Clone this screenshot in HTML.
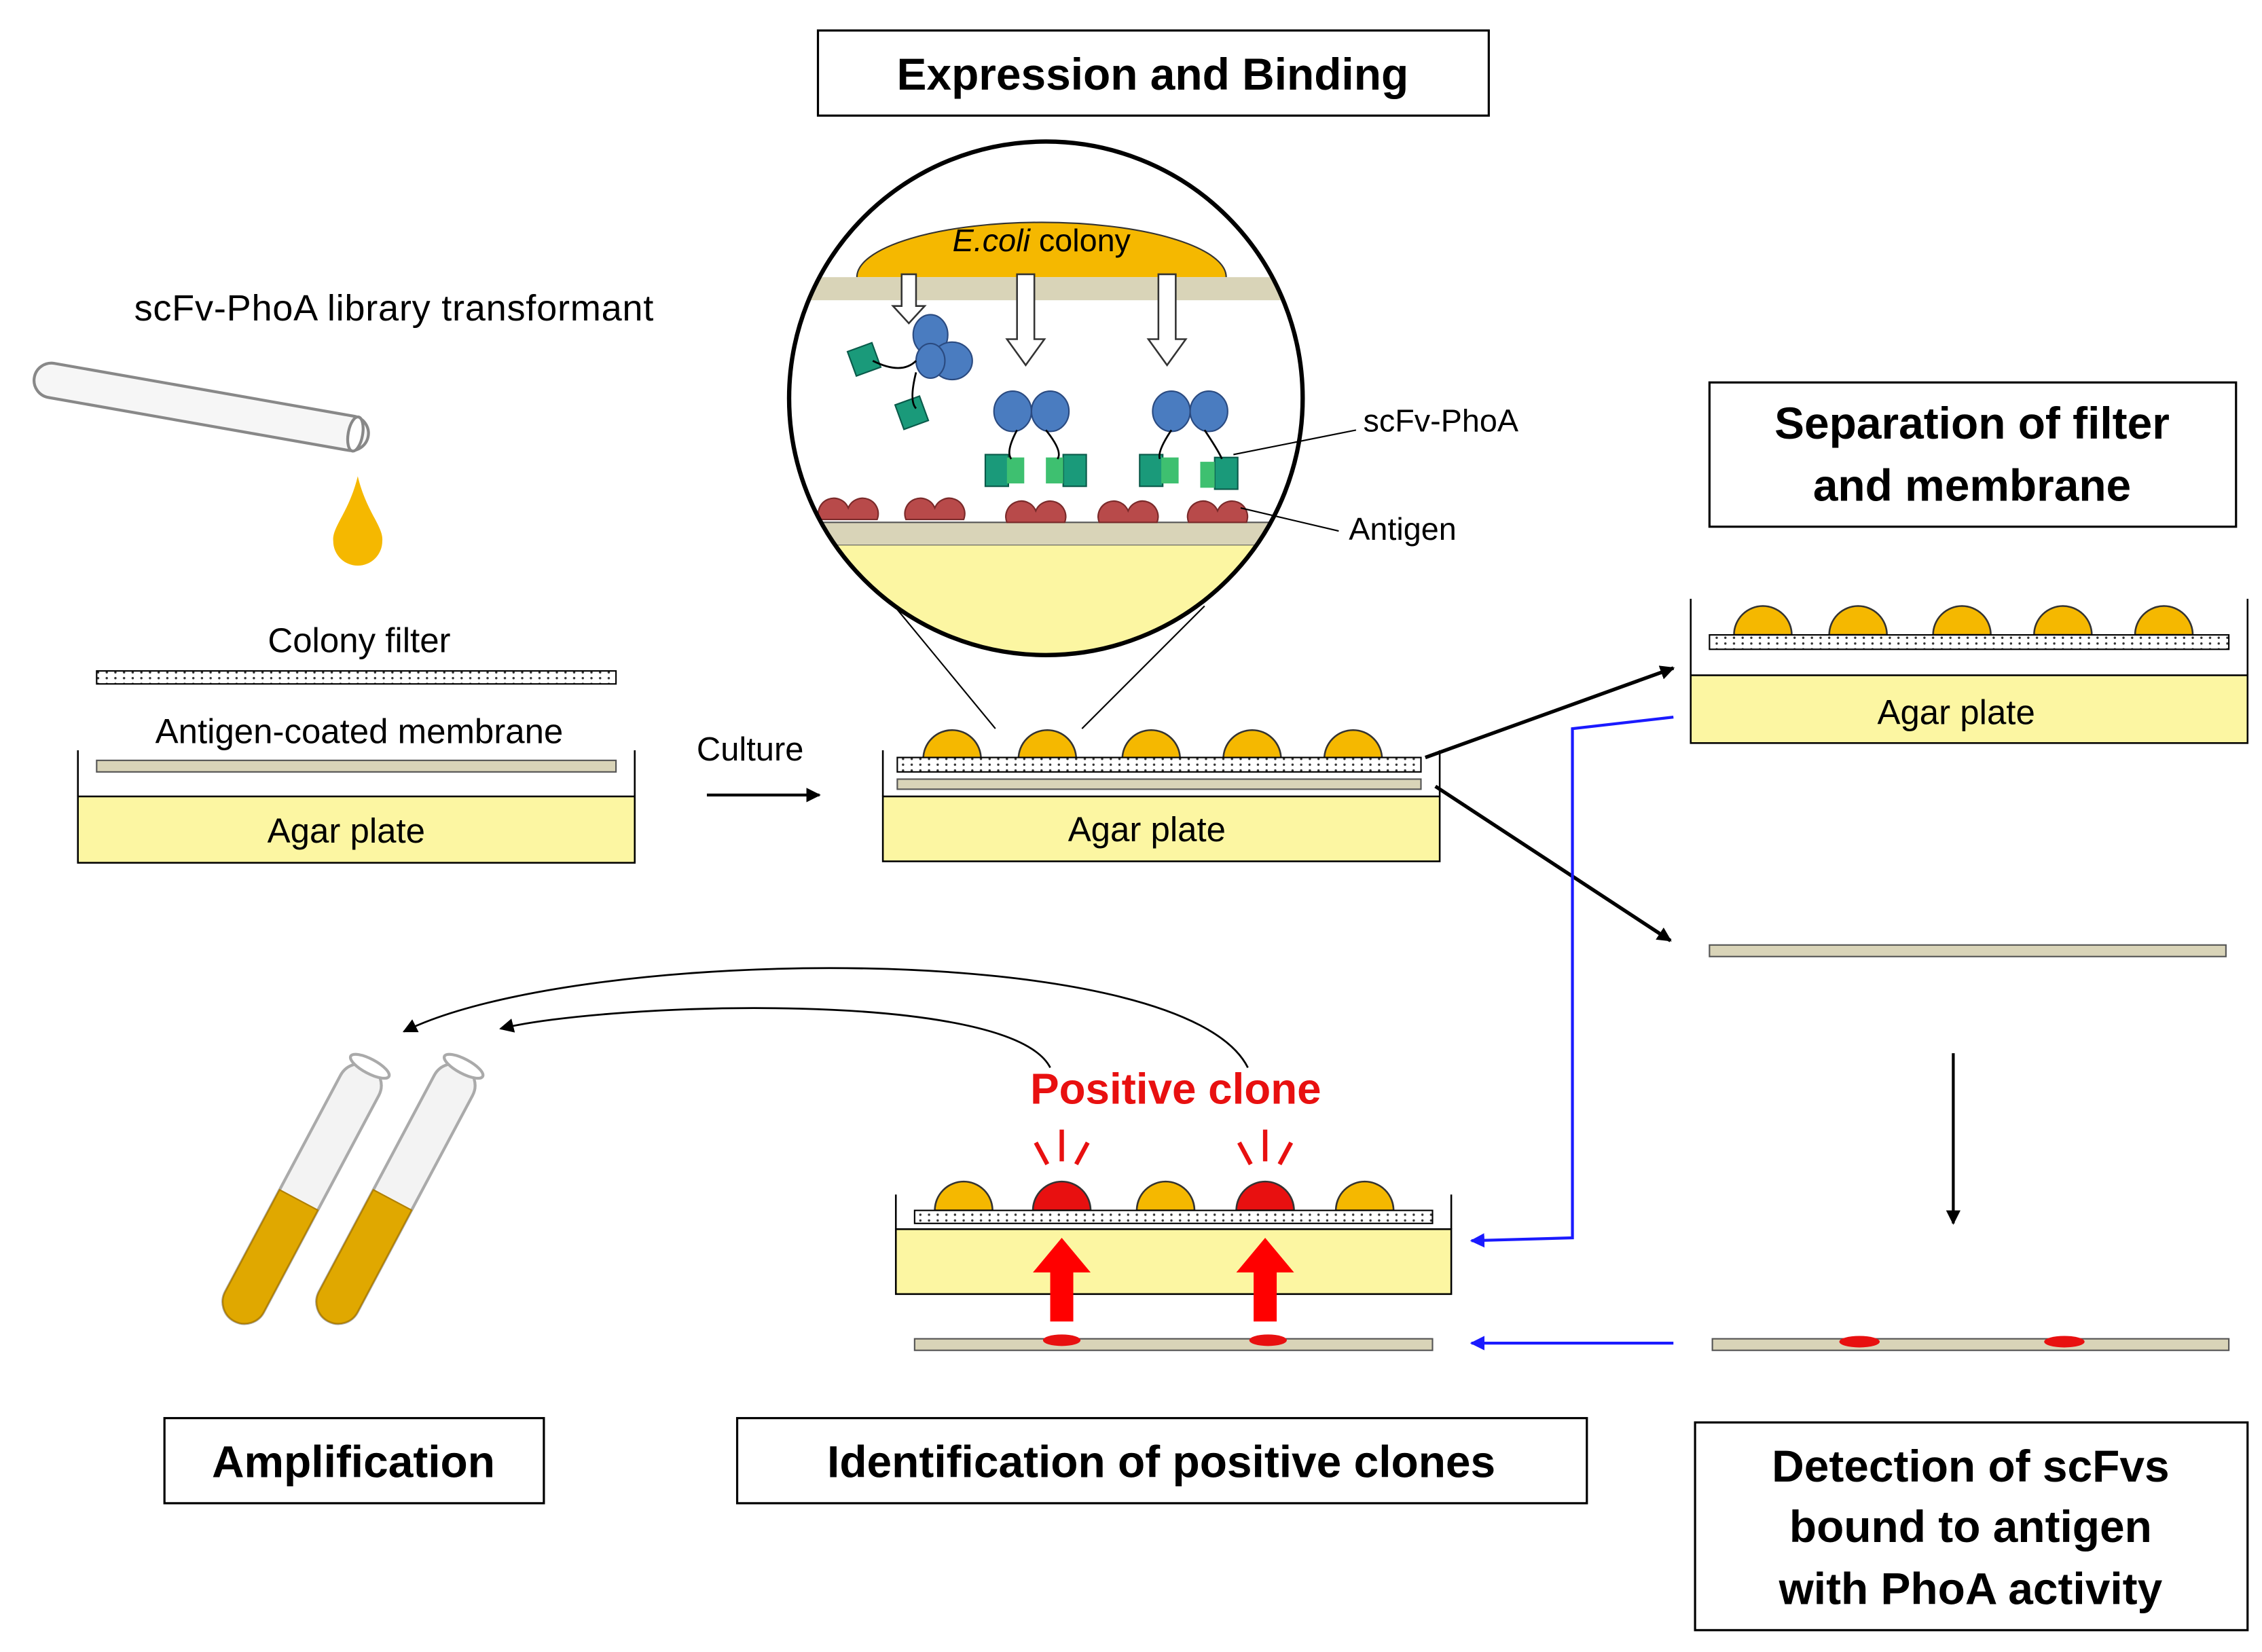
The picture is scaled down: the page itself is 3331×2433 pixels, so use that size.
<!DOCTYPE html>
<html><head><meta charset="utf-8"><style>
html,body{margin:0;padding:0;background:#fff}
svg{display:block}
text{font-family:"Liberation Sans",Arial,sans-serif}
.b{font-weight:bold}
</style></head><body>
<svg width="3331" height="2433" viewBox="0 0 1568 1145" xmlns="http://www.w3.org/2000/svg">
<defs>
<pattern id="dots" width="6" height="4" patternUnits="userSpaceOnUse"><rect width="6" height="4" fill="#fff"/><circle cx="2" cy="2" r="0.8" fill="#333"/></pattern>
<marker id="ah" markerWidth="10" markerHeight="10" refX="9" refY="5" orient="auto" markerUnits="userSpaceOnUse"><path d="M0,0 L10,5 L0,10 z" fill="#000"/></marker>
<marker id="ahb" markerWidth="10" markerHeight="10" refX="9" refY="5" orient="auto" markerUnits="userSpaceOnUse"><path d="M0,0 L10,5 L0,10 z" fill="#1a1aff"/></marker>
<clipPath id="cc"><circle cx="725" cy="276" r="178"/></clipPath>
</defs>

<rect x="567" y="21" width="465" height="59" fill="#fff" stroke="#000" stroke-width="1.5"/>
<text x="799" y="62" font-size="31" text-anchor="middle" class="b">Expression and Binding</text>

<text x="93" y="222" font-size="25.5" textLength="360">scFv-PhoA library transformant</text>
<g transform="rotate(10 140 282)">
<rect x="22" y="270" width="235" height="24" rx="12" fill="#f6f6f6" stroke="#888" stroke-width="2"/>
<ellipse cx="248" cy="282" rx="5" ry="12" fill="#fff" stroke="#888" stroke-width="2"/>
</g>
<path d="M248,330 C242,355 230,365 231,375 A17,17 0 0 0 265,375 C266,365 254,355 248,330 z" fill="#f5b800"/>

<text x="249" y="452" font-size="24" text-anchor="middle">Colony filter</text>
<rect x="67" y="465" width="360" height="9" fill="url(#dots)" stroke="#000" stroke-width="1"/>
<text x="249" y="515" font-size="24" text-anchor="middle">Antigen-coated membrane</text>
<rect x="67" y="527" width="360" height="8" fill="#d9d4b8" stroke="#555" stroke-width="1"/>
<rect x="54" y="552" width="386" height="46" fill="#fcf6a2" stroke="#000" stroke-width="1.2"/>
<line x1="54" y1="520" x2="54" y2="552" stroke="#000" stroke-width="1.2"/>
<line x1="440" y1="520" x2="440" y2="552" stroke="#000" stroke-width="1.2"/>
<text x="240" y="584" font-size="24" text-anchor="middle">Agar plate</text>

<text x="520" y="527" font-size="23" text-anchor="middle">Culture</text>
<line x1="490" y1="551" x2="568" y2="551" stroke="#000" stroke-width="2" marker-end="url(#ah)"/>

<g fill="#f5b800" stroke="#333" stroke-width="1.2">
<path d="M640,526 A20,20 0 0 1 680,526 z"/><path d="M706,526 A20,20 0 0 1 746,526 z"/><path d="M778,526 A20,20 0 0 1 818,526 z"/><path d="M848,526 A20,20 0 0 1 888,526 z"/><path d="M918,526 A20,20 0 0 1 958,526 z"/>
</g>
<rect x="622" y="525" width="363" height="10" fill="url(#dots)" stroke="#000"/>
<rect x="622" y="540" width="363" height="7" fill="#d9d4b8" stroke="#555"/>
<rect x="612" y="552" width="386" height="45" fill="#fcf6a2" stroke="#000" stroke-width="1.2"/>
<line x1="612" y1="520" x2="612" y2="552" stroke="#000" stroke-width="1.2"/>
<line x1="998" y1="520" x2="998" y2="552" stroke="#000" stroke-width="1.2"/>
<text x="795" y="583" font-size="24" text-anchor="middle">Agar plate</text>

<line x1="620" y1="420" x2="690" y2="505" stroke="#000" stroke-width="1"/>
<line x1="835" y1="420" x2="750" y2="505" stroke="#000" stroke-width="1"/>

<g clip-path="url(#cc)">
<rect x="540" y="90" width="370" height="380" fill="#fff"/>
<ellipse cx="722" cy="192" rx="128" ry="38" fill="#f5b800" stroke="#333"/>
<rect x="540" y="192" width="370" height="60" fill="#fff"/>
<rect x="540" y="192" width="370" height="16" fill="#d9d4b8"/>
<rect x="540" y="362" width="370" height="16" fill="#d9d4b8" stroke="#555"/>
<rect x="540" y="378" width="370" height="100" fill="#fcf6a2"/>
</g>
<text x="722" y="174" font-size="22" text-anchor="middle"><tspan font-style="italic">E.coli</tspan> colony</text>
<g fill="#fff" stroke="#333" stroke-width="1.2">
<path d="M625,190 h10 v22 h6 l-11,12 l-11,-12 h6 z"/>
<path d="M705,190 h12 v45 h7 l-13,18 l-13,-18 h7 z"/>
<path d="M803,190 h12 v45 h7 l-13,18 l-13,-18 h7 z"/>
</g>
<g fill="#b84a4a" stroke="#7a2a2a">
<path d="M568,360 a10,10 0 0 1 20,-8 a10,10 0 0 1 20,8 z"/>
<path d="M628,360 a10,10 0 0 1 20,-8 a10,10 0 0 1 20,8 z"/>
<path d="M698,362 a10,10 0 0 1 20,-8 a10,10 0 0 1 20,8 z"/>
<path d="M762,362 a10,10 0 0 1 20,-8 a10,10 0 0 1 20,8 z"/>
<path d="M824,362 a10,10 0 0 1 20,-8 a10,10 0 0 1 20,8 z"/>
</g>
<g fill="#4a7cc0" stroke="#2a4a80">
<ellipse cx="645" cy="232" rx="12" ry="14"/><ellipse cx="660" cy="250" rx="14" ry="13"/><ellipse cx="645" cy="250" rx="10" ry="12"/>
<ellipse cx="702" cy="285" rx="13" ry="14"/><ellipse cx="728" cy="285" rx="13" ry="14"/>
<ellipse cx="812" cy="285" rx="13" ry="14"/><ellipse cx="838" cy="285" rx="13" ry="14"/>
</g>
<g fill="#1a9a7a" stroke="#0a5a4a">
<rect x="590" y="240" width="18" height="18" transform="rotate(-20 599 249)"/>
<rect x="623" y="277" width="18" height="18" transform="rotate(-20 632 286)"/>
<rect x="683" y="315" width="16" height="22"/><rect x="737" y="315" width="16" height="22"/>
<rect x="790" y="315" width="16" height="22"/><rect x="842" y="317" width="16" height="22"/>
</g>
<g fill="#3ec070"><rect x="698" y="317" width="12" height="18"/><rect x="805" y="317" width="12" height="18"/><rect x="832" y="320" width="10" height="18"/><rect x="725" y="317" width="12" height="18"/></g>
<g fill="none" stroke="#000" stroke-width="1.3">
<path d="M605,250 q20,10 30,0"/><path d="M635,258 q-5,20 0,25"/>
<path d="M705,298 q-8,15 -4,20"/><path d="M725,298 q12,15 8,20"/>
<path d="M812,298 q-10,15 -8,20"/><path d="M835,298 q10,15 12,20"/>
</g>
<circle cx="725" cy="276" r="178" fill="none" stroke="#000" stroke-width="3"/>

<line x1="855" y1="315" x2="940" y2="298" stroke="#000" stroke-width="1"/>
<text x="945" y="299" font-size="22">scFv-PhoA</text>
<line x1="860" y1="352" x2="928" y2="368" stroke="#000" stroke-width="1"/>
<text x="935" y="374" font-size="22">Antigen</text>

<rect x="1185" y="265" width="365" height="100" fill="#fff" stroke="#000" stroke-width="1.5"/>
<text x="1367" y="304" font-size="31" text-anchor="middle" class="b">Separation of filter</text>
<text x="1367" y="347" font-size="31" text-anchor="middle" class="b">and membrane</text>

<g fill="#f5b800" stroke="#333" stroke-width="1.2">
<path d="M1202,440 A20,20 0 0 1 1242,440 z"/><path d="M1268,440 A20,20 0 0 1 1308,440 z"/><path d="M1340,440 A20,20 0 0 1 1380,440 z"/><path d="M1410,440 A20,20 0 0 1 1450,440 z"/><path d="M1480,440 A20,20 0 0 1 1520,440 z"/>
</g>
<rect x="1185" y="440" width="360" height="10" fill="url(#dots)" stroke="#000"/>
<rect x="1172" y="468" width="386" height="47" fill="#fcf6a2" stroke="#000" stroke-width="1.2"/>
<line x1="1172" y1="415" x2="1172" y2="468" stroke="#000" stroke-width="1.2"/>
<line x1="1558" y1="415" x2="1558" y2="468" stroke="#000" stroke-width="1.2"/>
<text x="1356" y="502" font-size="24" text-anchor="middle">Agar plate</text>

<line x1="988" y1="525" x2="1160" y2="463" stroke="#000" stroke-width="2.5" marker-end="url(#ah)"/>
<line x1="995" y1="545" x2="1158" y2="652" stroke="#000" stroke-width="2.5" marker-end="url(#ah)"/>
<rect x="1185" y="655" width="358" height="8" fill="#d9d4b8" stroke="#555"/>
<line x1="1354" y1="730" x2="1354" y2="848" stroke="#000" stroke-width="2" marker-end="url(#ah)"/>

<rect x="1187" y="928" width="358" height="8" fill="#d9d4b8" stroke="#555"/>
<ellipse cx="1289" cy="930" rx="14" ry="4" fill="#e81010"/>
<ellipse cx="1431" cy="930" rx="14" ry="4" fill="#e81010"/>

<line x1="1160" y1="931" x2="1020" y2="931" stroke="#1a1aff" stroke-width="2" marker-end="url(#ahb)"/>
<polyline points="1160,497 1090,505 1090,858 1020,860" fill="none" stroke="#1a1aff" stroke-width="2" marker-end="url(#ahb)"/>

<g stroke="#333" stroke-width="1.2">
<path d="M648,839 A20,20 0 0 1 688,839 z" fill="#f5b800"/>
<path d="M716,839 A20,20 0 0 1 756,839 z" fill="#e81010"/>
<path d="M788,839 A20,20 0 0 1 828,839 z" fill="#f5b800"/>
<path d="M857,839 A20,20 0 0 1 897,839 z" fill="#e81010"/>
<path d="M926,839 A20,20 0 0 1 966,839 z" fill="#f5b800"/>
</g>
<g stroke="#e81010" stroke-width="3">
<line x1="736" y1="783" x2="736" y2="805"/><line x1="718" y1="792" x2="726" y2="807"/><line x1="754" y1="792" x2="746" y2="807"/>
<line x1="877" y1="783" x2="877" y2="805"/><line x1="859" y1="792" x2="867" y2="807"/><line x1="895" y1="792" x2="887" y2="807"/>
</g>
<rect x="634" y="839" width="359" height="9" fill="url(#dots)" stroke="#000"/>
<rect x="621" y="852" width="385" height="45" fill="#fcf6a2" stroke="#000" stroke-width="1.2"/>
<line x1="621" y1="828" x2="621" y2="852" stroke="#000" stroke-width="1.2"/>
<line x1="1006" y1="828" x2="1006" y2="852" stroke="#000" stroke-width="1.2"/>
<rect x="634" y="928" width="359" height="8" fill="#d9d4b8" stroke="#555"/>
<ellipse cx="736" cy="929" rx="13" ry="4" fill="#e81010"/>
<ellipse cx="879" cy="929" rx="13" ry="4" fill="#e81010"/>
<path d="M728,916 v-34 h-12 l20,-24 l20,24 h-12 v34 z" fill="#ff0000"/>
<path d="M869,916 v-34 h-12 l20,-24 l20,24 h-12 v34 z" fill="#ff0000"/>
<text x="815" y="765" font-size="30" text-anchor="middle" class="b" fill="#e81010">Positive clone</text>

<path d="M865,740 C820,650 400,655 280,715" fill="none" stroke="#000" stroke-width="1.3" marker-end="url(#ah)"/>
<path d="M728,740 C700,685 420,695 347,713" fill="none" stroke="#000" stroke-width="1.3" marker-end="url(#ah)"/>

<g transform="rotate(28 225 830)">
<rect x="195" y="735" width="30" height="200" rx="15" fill="#f3f3f3" stroke="#aaa" stroke-width="2"/>
<path d="M195,840 h30 v80 a15,15 0 0 1 -30,0 z" fill="#e0a800" stroke="#b08000"/>
<ellipse cx="210" cy="735" rx="15" ry="5" fill="#fff" stroke="#aaa" stroke-width="2"/>
</g>
<g transform="rotate(28 290 830)">
<rect x="260" y="735" width="30" height="200" rx="15" fill="#f3f3f3" stroke="#aaa" stroke-width="2"/>
<path d="M260,840 h30 v80 a15,15 0 0 1 -30,0 z" fill="#e0a800" stroke="#b08000"/>
<ellipse cx="275" cy="735" rx="15" ry="5" fill="#fff" stroke="#aaa" stroke-width="2"/>
</g>

<rect x="114" y="983" width="263" height="59" fill="#fff" stroke="#000" stroke-width="1.5"/>
<text x="245" y="1024" font-size="31" text-anchor="middle" class="b">Amplification</text>
<rect x="511" y="983" width="589" height="59" fill="#fff" stroke="#000" stroke-width="1.5"/>
<text x="805" y="1024" font-size="31" text-anchor="middle" class="b">Identification  of positive clones</text>
<rect x="1175" y="986" width="383" height="144" fill="#fff" stroke="#000" stroke-width="1.5"/>
<text x="1366" y="1027" font-size="31" text-anchor="middle" class="b">Detection of  scFvs</text>
<text x="1366" y="1069" font-size="31" text-anchor="middle" class="b">bound to antigen</text>
<text x="1366" y="1112" font-size="31" text-anchor="middle" class="b">with  PhoA activity</text>
</svg>
</body></html>
